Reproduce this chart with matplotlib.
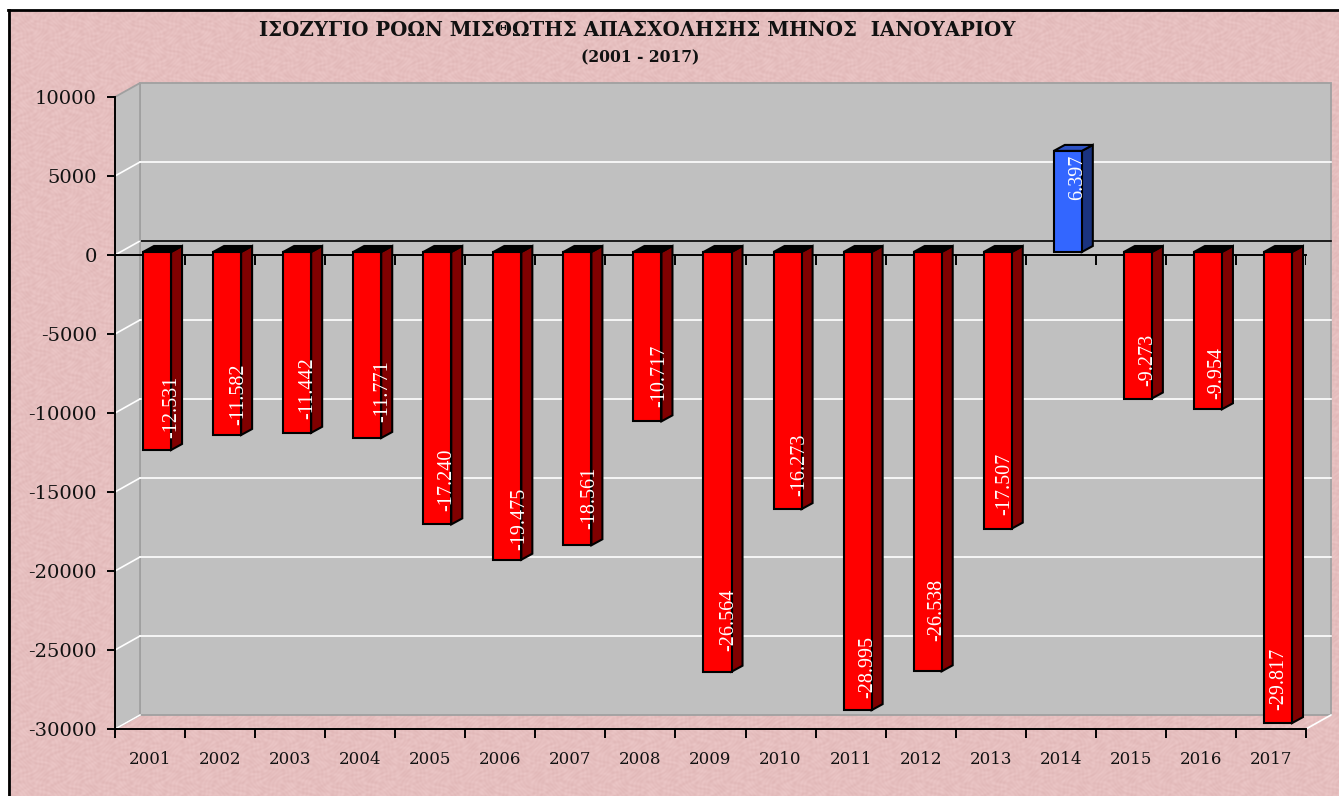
import matplotlib
matplotlib.use("Agg")
import matplotlib.pyplot as plt
from matplotlib.patches import Polygon, Rectangle
from matplotlib.lines import Line2D
import numpy as np

years = ["2001", "2002", "2003", "2004", "2005", "2006", "2007", "2008", "2009",
         "2010", "2011", "2012", "2013", "2014", "2015", "2016", "2017"]
balance = [-12531, -11582, -11442, -11771, -17240, -19475, -18561, -10717, -26564,
           -16273, -28995, -26538, -17507, 6397, -9273, -9954, -29817]
y_ticks = [10000, 5000, 0, -5000, -10000, -15000, -20000, -25000, -30000]

# hand placed label nudges, pixels
label_dx = [15, 12, 11, 16, 9, 12, 12, 12, 11, 12, 10, 9, 7, 10, 10, 9, 1]
label_dy = [12, 10, 14, 16, 13, 10, 16, 14, 21, 13, 12, 30, 14, 7, 13, 10, 13]

W, H = 1339, 796
fig = plt.figure(figsize=(W / 100, H / 100), dpi=100, facecolor="white")

# pink paper background, mottled
yy, xx = np.mgrid[0:H - 10, 0:W - 8]
m = np.sin(xx * 0.9 + 4 * np.sin(yy * 0.23)) * np.sin(yy * 0.8 + 4 * np.sin(xx * 0.19))
m = 0.6 * m + 0.4 * np.sin(xx * 0.37 + 3 * np.sin(yy * 0.41 + xx * 0.07))
paper = np.zeros((H - 10, W - 8, 3))
paper[..., 0] = (230 + 5 * m) / 255
paper[..., 1] = (191 + 7 * m) / 255
paper[..., 2] = (191 + 7 * m) / 255
fig.figimage(paper, xo=8, yo=0, origin="upper", zorder=-10)
fig.add_artist(Line2D([8.5 / W, 8.5 / W], [0, 1 - 10 / H], color="black", lw=2))
fig.add_artist(Line2D([8 / W, 1], [1 - 10 / H, 1 - 10 / H], color="black", lw=2))

ax = fig.add_axes([115 / W, 1 - 729 / H, 1191 / W, 632 / H])
ax.set_xlim(0, 17)
ax.set_ylim(-30000, 10000)
ax.patch.set_visible(False)
for s in ax.spines.values():
    s.set_visible(False)

px = 17 / 1191      # one pixel in x data units
py = 40000 / 632    # one pixel in y data units
wall_x = 25 * px
wall_y = 14 * py
grey = "#c0c0c0"
edge = "#a0a0a0"

# back wall and side wall
ax.add_patch(Rectangle((wall_x, -30000 + wall_y), 17, 40000, fc=grey, ec=edge, lw=1.3, zorder=1, clip_on=False))
ax.add_patch(Polygon([(0, -30000), (wall_x, -30000 + wall_y), (wall_x, 10000 + wall_y), (0, 10000)],
                     fc=grey, ec=edge, lw=1.3, zorder=1, clip_on=False))
for t in y_ticks[1:-1]:
    c = "black" if t == 0 else "white"
    ax.plot([wall_x, 17 + wall_x], [t + wall_y, t + wall_y], color=c, lw=1.2, zorder=2, clip_on=False)
    ax.plot([0, wall_x], [t, t + wall_y], color="white", lw=1.2, zorder=2, clip_on=False)
ax.plot([0, wall_x], [-30000, -30000 + wall_y], color="white", lw=1.2, zorder=2, clip_on=False)
ax.plot([17, 17 + wall_x], [-30000, -30000 + wall_y], color="white", lw=1.2, zorder=2, clip_on=False)

# axes lines
ax.plot([0, 0], [-30000, 10000], color="black", lw=1.4, zorder=3, clip_on=False)
ax.plot([0, 17], [-30000, -30000], color="black", lw=1.4, zorder=3, clip_on=False)
ax.plot([0, 17], [0, 0], color="black", lw=1.4, zorder=3, clip_on=False)
ax.vlines(np.arange(1, 18), -9.5 * py, 0, color="black", lw=1.4, zorder=3)

pos = np.arange(17)
bar_left = pos + 0.4
bar_w = 0.4
base = 3 * py
side_x = 11 * px
side_y = 6 * py
ok = [v > 0 for v in balance]
faces = ["#3366ff" if k else "#ff0000" for k in ok]
ax.bar(bar_left, balance, bar_w, bottom=base, align="edge", color=faces, edgecolor="black", lw=1.5, zorder=5)
for i, v in enumerate(balance):
    x0 = bar_left[i]
    x1 = x0 + bar_w
    lo = base + min(v, 0)
    hi = base + max(v, 0)
    ax.add_patch(Polygon([(x1, lo), (x1 + side_x, lo + side_y), (x1 + side_x, hi + side_y), (x1, hi)],
                         fc="#1a3380" if ok[i] else "#800000", ec="black", lw=1.5, zorder=4, clip_on=False))
    ax.add_patch(Polygon([(x0, hi), (x0 + side_x, hi + side_y), (x1 + side_x, hi + side_y), (x1, hi)],
                         fc="#2d52c4" if ok[i] else "black", ec="black", lw=1.5, zorder=4, clip_on=False))
    lab = f"{v:,}".replace(",", ".")
    xc = x0 + bar_w / 2
    ax.annotate(lab, (xc, base + v), xytext=(label_dx[i] * 0.72, (label_dy[i] if v < 0 else -49) * 0.72),
                textcoords="offset points", rotation=90, ha="center", va="bottom", color="white",
                fontsize=14.5, family="Liberation Serif", zorder=6, annotation_clip=False)

ax.set_yticks(y_ticks)
ax.set_yticklabels([str(t) for t in y_ticks], family="DejaVu Serif", fontsize=14, color="#111111")
ax.tick_params(axis="y", length=6, width=1.4, pad=7)
ax.set_xticks(pos + 0.5)
ax.set_xticklabels(years, family="DejaVu Serif", fontsize=12, color="#111111")
ax.set_xticks(np.arange(18), minor=True)
ax.tick_params(axis="x", which="major", length=0, pad=16)
ax.tick_params(axis="x", which="minor", length=6.5, width=1.4)

fig.text(637 / W, 1 - 30 / H, "ΙΣΟΖΥΓΙΟ ΡΟΩΝ ΜΙΣΘΩΤΗΣ ΑΠΑΣΧΟΛΗΣΗΣ ΜΗΝΟΣ  ΙΑΝΟΥΑΡΙΟΥ",
         family="DejaVu Serif", weight="bold", fontsize=14.2, ha="center", va="center", color="#111111")
fig.text(640 / W, 1 - 58 / H, "(2001 - 2017)", family="DejaVu Serif", weight="bold",
         fontsize=11.2, ha="center", va="center", color="#111111")

fig.savefig("out.png", dpi=100)
